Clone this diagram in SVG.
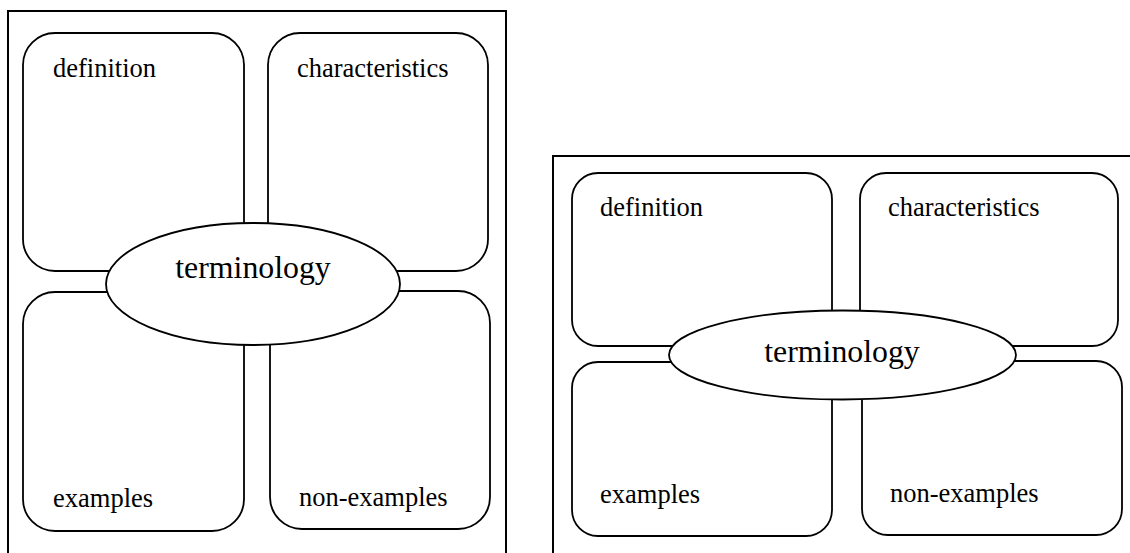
<svg xmlns="http://www.w3.org/2000/svg" width="1130" height="553" viewBox="0 0 1130 553">
  <style>
    .frame { fill: none; stroke: #000; stroke-width: 2; }
    .box { fill: #fff; stroke: #000; stroke-width: 1.8; }
    .hub { fill: #fff; stroke: #000; stroke-width: 1.8; }
    text { font-family: 'Liberation Serif', 'Times New Roman', Times, serif; fill: #000; }
    .lbl { font-size: 26.5px; }
    .hubt { font-size: 31.8px; text-anchor: middle; }
  </style>
  <rect x="0" y="0" width="1130" height="553" fill="#fff"/>
  <g id="connectors"></g>

  <!-- Left panel -->
  <g id="panel-left">
    <path class="frame" d="M8,554 V11 H506 V554"/>
    <g id="left-definition">
      <rect class="box" x="23" y="33" width="221" height="238" rx="32" ry="32"/>
      <text class="lbl" x="53" y="77">definition</text>
    </g>
    <g id="left-characteristics">
      <rect class="box" x="268" y="33" width="220" height="238" rx="32" ry="32"/>
      <text class="lbl" x="297" y="77">characteristics</text>
    </g>
    <g id="left-examples">
      <rect class="box" x="23" y="292" width="221" height="239" rx="32" ry="32"/>
      <text class="lbl" x="53" y="507">examples</text>
    </g>
    <g id="left-non-examples">
      <rect class="box" x="270" y="291" width="220" height="238" rx="32" ry="32"/>
      <text class="lbl" x="299" y="506">non-examples</text>
    </g>
    <g id="left-terminology">
      <ellipse class="hub" cx="253" cy="284" rx="147" ry="61"/>
      <text class="hubt" x="253" y="278">terminology</text>
    </g>
  </g>

  <!-- Right panel -->
  <g id="panel-right">
    <path class="frame" d="M553,554 V156 H1131"/>
    <g id="right-definition">
      <rect class="box" x="572" y="173" width="260" height="173" rx="26" ry="26"/>
      <text class="lbl" x="600" y="216">definition</text>
    </g>
    <g id="right-characteristics">
      <rect class="box" x="860" y="173" width="258" height="173" rx="26" ry="26"/>
      <text class="lbl" x="888" y="216">characteristics</text>
    </g>
    <g id="right-examples">
      <rect class="box" x="572" y="362" width="260" height="174" rx="26" ry="26"/>
      <text class="lbl" x="600" y="503">examples</text>
    </g>
    <g id="right-non-examples">
      <rect class="box" x="862" y="361" width="260" height="174" rx="26" ry="26"/>
      <text class="lbl" x="890" y="502">non-examples</text>
    </g>
    <g id="right-terminology">
      <ellipse class="hub" cx="842.5" cy="355" rx="173.5" ry="44.5"/>
      <text class="hubt" x="842" y="362">terminology</text>
    </g>
  </g>
</svg>
